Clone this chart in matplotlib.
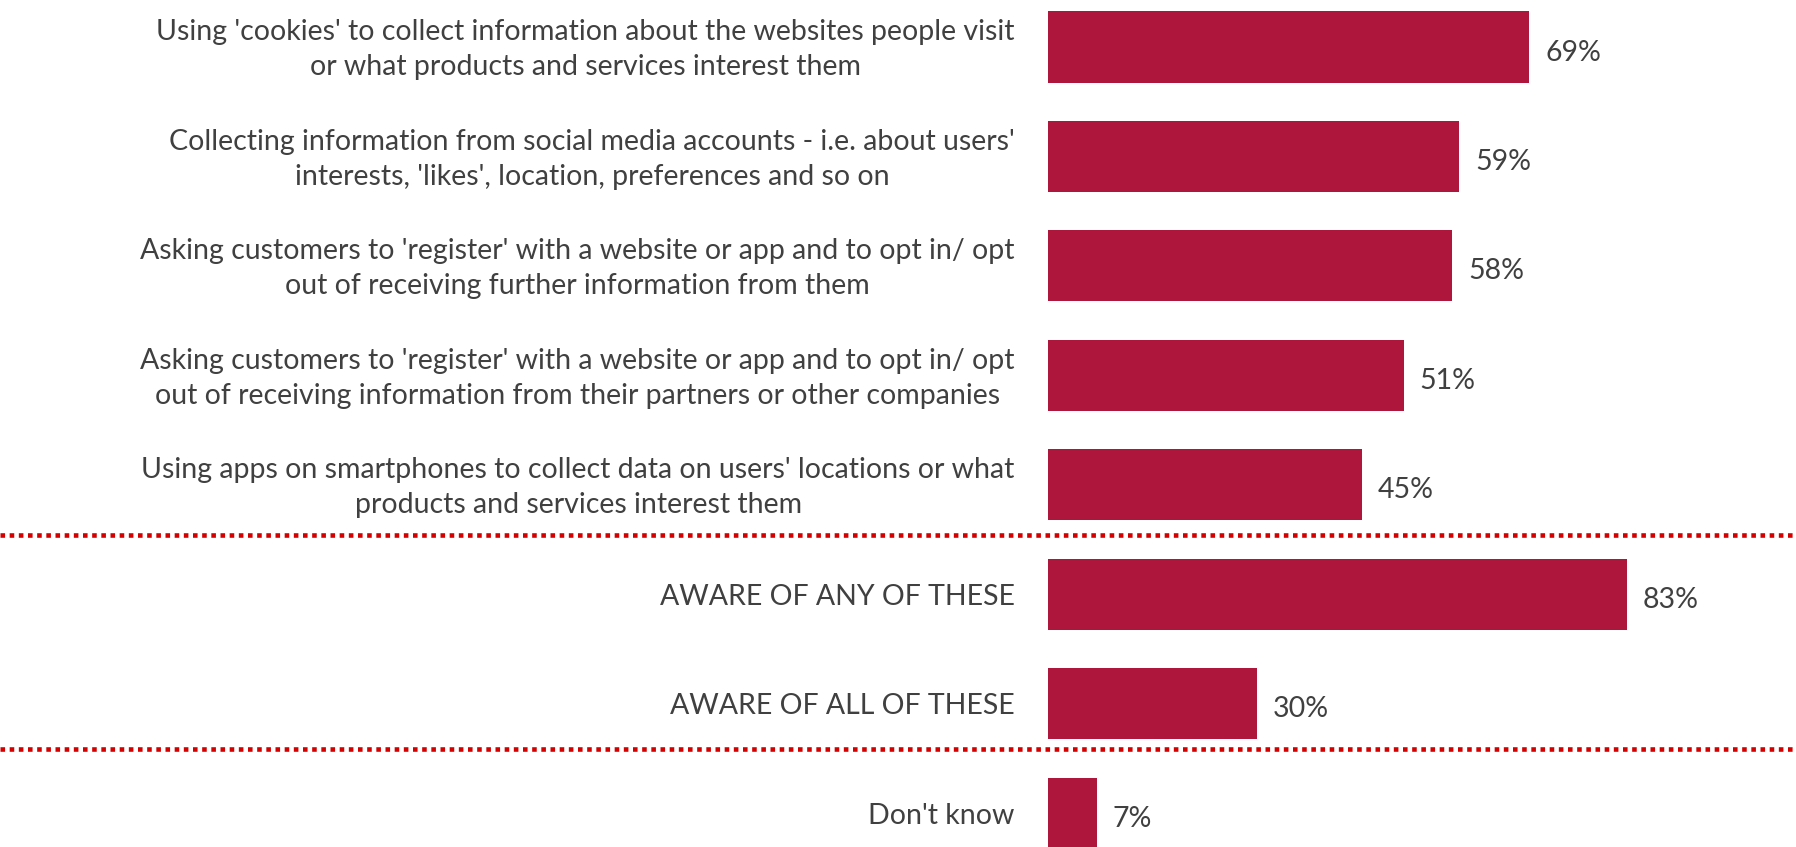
import matplotlib.pyplot as plt

labels = [
    "Using 'cookies' to collect information about the websites people visit\nor what products and services interest them",
    "Collecting information from social media accounts - i.e. about users'\ninterests, 'likes', location, preferences and so on",
    "Asking customers to 'register' with a website or app and to opt in/ opt\nout of receiving further information from them",
    "Asking customers to 'register' with a website or app and to opt in/ opt\nout of receiving information from their partners or other companies",
    "Using apps on smartphones to collect data on users' locations or what\nproducts and services interest them",
    "AWARE OF ANY OF THESE",
    "AWARE OF ALL OF THESE",
    "Don't know",
]
values = [69, 59, 58, 51, 45, 83, 30, 7]
divider_pos = [4.46, 6.41]  # dotted separators between groups

bar_color = '#AE173B'
text_color = '#404040'
line_color = '#D40000'

plt.rcParams['font.family'] = ['Lato', 'DejaVu Sans']

fig = plt.figure(figsize=(17.96, 8.47), dpi=100)
ax = fig.add_axes([0, 0, 1, 1])

pos = list(range(len(values)))
ax.barh(pos, values, height=0.65, color=bar_color)

for i, (lab, v) in enumerate(zip(labels, values)):
    ax.annotate(lab, xy=(0, i), xytext=(-24, -2), textcoords='offset points',
                ha='right', va='center', multialignment='center',
                fontsize=20.5, color=text_color, linespacing=1.42)
    ax.annotate(f"{v}%", xy=(v, i), xytext=(11.5, -4), textcoords='offset points',
                ha='left', va='center', fontsize=20.5, color=text_color)

for y in divider_pos:
    ax.axhline(y, color=line_color, lw=3.3, linestyle=(0, (1, 1)))

ax.set_xlim(-150.4, 107.3)
ax.set_ylim(7.31, -0.43)
ax.axis('off')

fig.savefig('out.png', dpi=100)
